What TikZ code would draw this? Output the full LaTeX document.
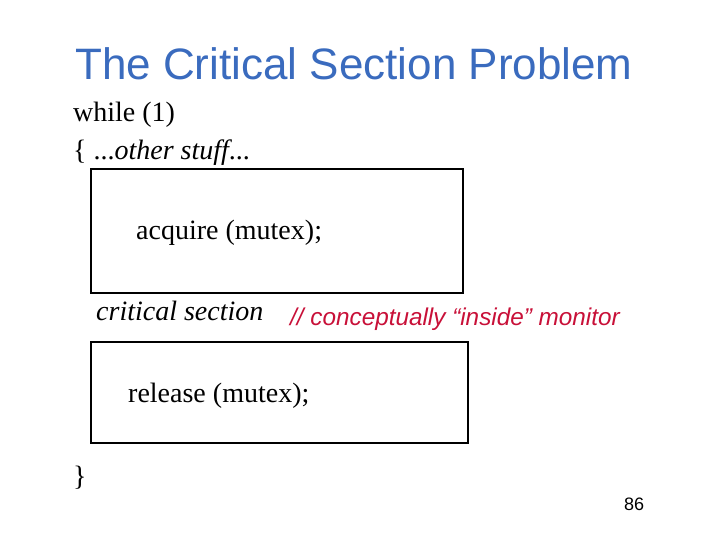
\documentclass[tikz,border=0pt]{standalone}
\usepackage{fontspec}
\setmainfont{Liberation Serif}
\newfontfamily\arialfont{Liberation Sans}
\definecolor{titleblue}{RGB}{58,107,190}
\definecolor{cmtred}{RGB}{200,16,56}
\begin{document}
\begin{tikzpicture}[x=1pt,y=-1pt,
  codebox/.style={draw=black,line width=2pt},
  txt/.style={anchor=base west,inner sep=0pt,font=\fontsize{28}{32}\selectfont}]
\useasboundingbox (0,0) rectangle (720,540);
\node[anchor=base west,inner sep=0pt,text=titleblue,font=\arialfont\fontsize{44}{50}\selectfont] (title) at (75,80) {The Critical Section Problem};
\node[txt] (while) at (73,122) {while (1)};
\node[txt] (other) at (73,160) {\{ ...\textit{other stuff}...};
\draw[codebox] (91,169) rectangle (463,293);
\node[txt] (acq) at (136,240) {acquire (mutex);};
\node[txt] (crit) at (96,320) {\textit{critical section}};
\node[anchor=base west,inner sep=0pt,text=cmtred,font=\arialfont\itshape\fontsize{24.3}{28}\selectfont] (cmt) at (290,325) {// conceptually “inside” monitor};
\draw[codebox] (91,342) rectangle (468,443);
\node[txt] (rel) at (128,402) {release (mutex);};
\node[txt] (close) at (73,485) {\}};
\node[anchor=base west,inner sep=0pt,font=\arialfont\fontsize{18}{20}\selectfont] (pg) at (624,510) {86};
\end{tikzpicture}
\end{document}
